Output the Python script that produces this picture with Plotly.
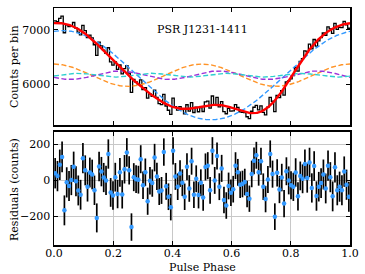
import numpy as np
import plotly.graph_objects as go

# ---- data ----
n_bins = 128
offset = 6165                       # mean level of the profile (counts per bin)
harm_amp = [820, 205, 78, 35]       # Fourier component amplitudes (harmonics 1..4)
harm_peak = [0.03, 0.0, 0.222, 0.08]  # phase of a maximum of each component
harm_color = ["#3399ff", "#ff9326", "#9b30d9", "#2ccfcf"]

residuals = [40, 24, 87, 131, -167, -11, -31, 2, 76, -5,
             -56, -80, 124, 56, -35, 44, 33, -55, -209, 78,
             49, 16, 0, 147, -67, -84, 18, -76, 45, -78,
             62, 156, 56, -260, 18, 7, 4, 118, -27, 45,
             -116, -2, -15, 127, 22, -62, -56, 158, -33, -91,
             -149, 165, 22, -35, 38, -13, -91, 76, -45, 107,
             -80, 9, -82, -13, -95, 75, 82, -55, 165, 0,
             136, -35, 67, -109, -140, -31, -69, -49, 82, 45,
             -24, -20, -9, -76, -102, 36, 109, 140, 45, 107,
             -35, -104, 5, 147, 35, -202, 42, -51, 16, -129,
             51, 0, -27, -36, 44, -89, 25, 9, 91, 13,
             100, -42, 80, -87, -35, -15, 33, -45, 82, 18,
             -89, 73, -55, -35, -55, 49, -24, -91]

title_text = "PSR J1231-1411"
x_ticks = [0.0, 0.2, 0.4, 0.6, 0.8, 1.0]
top_y_ticks = [6000, 7000]
bot_y_ticks = [-200, 0, 200]

# ---- derived ----
def component(k, ph):
    return harm_amp[k] * np.cos(2 * np.pi * (k + 1) * (np.asarray(ph) - harm_peak[k]))

def model(ph):
    return offset + sum(component(k, ph) for k in range(len(harm_amp)))

edges = np.linspace(0, 1, n_bins + 1)
centers = 0.5 * (edges[:-1] + edges[1:])
res = np.array(residuals, dtype=float)
counts = model(centers) + res
errs = np.sqrt(counts)
phase_fine = np.linspace(0, 1, 600)

FONT = "DejaVu Serif"
fig = go.Figure()

# histogram (step)
fig.add_trace(go.Scatter(
    x=np.append(edges[:-1], edges[-1]), y=np.append(counts, counts[-1]),
    mode="lines", line=dict(color="black", width=1.3, shape="hv"),
    xaxis="x", yaxis="y", showlegend=False, hoverinfo="skip"))

for k in range(len(harm_amp)):
    fig.add_trace(go.Scatter(
        x=phase_fine, y=offset + component(k, phase_fine), mode="lines",
        line=dict(color=harm_color[k], width=1.4, dash="5px,2.5px"),
        xaxis="x", yaxis="y", showlegend=False, hoverinfo="skip"))

fig.add_trace(go.Scatter(
    x=phase_fine, y=model(phase_fine), mode="lines",
    line=dict(color="#ff0000", width=2.4),
    xaxis="x", yaxis="y", showlegend=False, hoverinfo="skip"))

# residuals
fig.add_trace(go.Scatter(
    x=centers, y=res, mode="markers",
    marker=dict(color="#3399ff", size=4.5),
    error_y=dict(type="data", array=errs, color="black", thickness=1.7, width=0),
    xaxis="x2", yaxis="y2", showlegend=False, hoverinfo="skip"))

axis_common = dict(
    showline=True, linecolor="black", linewidth=1.5, mirror="ticks",
    ticks="inside", ticklen=4, tickwidth=1, tickcolor="black",
    tickfont=dict(family=FONT, size=11, color="black"),
    zeroline=False)

fig.update_layout(
    width=365, height=274,
    margin=dict(l=54, r=11, t=6, b=29),
    paper_bgcolor="white", plot_bgcolor="white",
    hovermode=False,
    xaxis=dict(domain=[0, 1], anchor="y", range=[0, 1], tickvals=x_ticks,
               showticklabels=False, showgrid=False, **axis_common),
    yaxis=dict(domain=[(245 - 124) / 239, 1], anchor="x", range=[5250, 7400],
               tickvals=top_y_ticks, showgrid=False, **axis_common),
    xaxis2=dict(domain=[0, 1], anchor="y2", range=[0, 1], tickvals=x_ticks,
                tickformat=".1f", showgrid=True, gridcolor="#c8c8c8", gridwidth=1,
                ticklabelstandoff=-3, **axis_common),
    yaxis2=dict(domain=[0, (245 - 131) / 239], anchor="x2", range=[-360, 270],
                tickvals=bot_y_ticks, showgrid=True, gridcolor="#c8c8c8", gridwidth=1,
                **axis_common),
    annotations=[
        dict(text=title_text, xref="x", yref="y", x=0.5, y=7000 + (27.7 - 27) / 55 * 1000,
             showarrow=False, font=dict(family=FONT, size=11, color="black"),
             xanchor="center", yanchor="middle"),
        dict(text="Counts per bin", xref="paper", yref="paper", x=(14 - 54) / 300,
             y=(245 - 65) / 239, textangle=-90, showarrow=False,
             font=dict(family=FONT, size=11, color="black"),
             xanchor="center", yanchor="middle"),
        dict(text="Residuals (counts)", xref="paper", yref="paper", x=(14 - 54) / 300,
             y=(245 - 189) / 239, textangle=-90, showarrow=False,
             font=dict(family=FONT, size=11, color="black"),
             xanchor="center", yanchor="middle"),
        dict(text="Pulse Phase", xref="paper", yref="paper", x=0.5,
             y=(245 - 268) / 239, showarrow=False,
             font=dict(family=FONT, size=11, color="black"),
             xanchor="center", yanchor="middle"),
    ],
)

fig.write_html("out.html", config={"displayModeBar": False, "staticPlot": True},
               post_script="document.body.style.margin='0';document.body.style.padding='0';")
